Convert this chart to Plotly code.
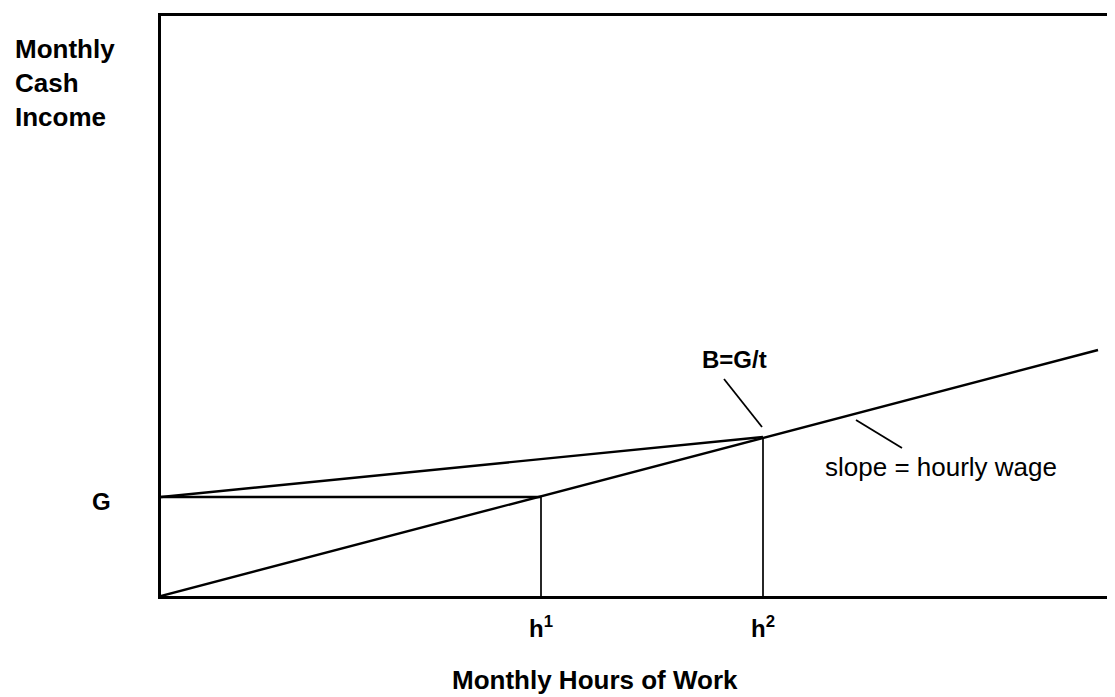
import plotly.graph_objects as go

# values (hours on x, cash income on y)
hours_h1 = 380
hours_h2 = 602
hours_end = 937
income_G = 99
income_B = 159
income_end = 246

wage_x = [0, hours_end]
wage_y = [0, income_end]
grant_x = [0, hours_h2]
grant_y = [income_G, income_B]
g_level_x = [0, hours_h1]
g_level_y = [income_G, income_G]
h1_x = [hours_h1, hours_h1]
h1_y = [0, income_G]
h2_x = [hours_h2, hours_h2]
h2_y = [0, income_B]
b_pointer_x = [563, 601]
b_pointer_y = [217, 169]
slope_pointer_x = [695, 741]
slope_pointer_y = [176, 148]

X_MAX = 954
Y_MAX = 580
FONT = "Liberation Sans, Arial, Helvetica, sans-serif"

fig = go.Figure()


def add_line(x, y, width=2.4):
    fig.add_trace(go.Scatter(x=x, y=y, mode="lines", line=dict(color="black", width=width),
                             hoverinfo="skip", showlegend=False))


add_line(wage_x, wage_y)
add_line(grant_x, grant_y)
add_line(g_level_x, g_level_y)
add_line(h1_x, h1_y, 1.7)
add_line(h2_x, h2_y, 1.7)
add_line(b_pointer_x, b_pointer_y, 1.8)
add_line(slope_pointer_x, slope_pointer_y, 1.8)

annotations = [
    dict(x=-148, y=513, text="<b>Monthly<br>Cash<br>Income</b>", xanchor="left",
         align="left", font=dict(size=26)),
    dict(x=-60, y=95, text="<b>G</b>", font=dict(size=24)),
    dict(x=hours_h1, y=-31, text="<b>h<sup>1</sup></b>", font=dict(size=24)),
    dict(x=hours_h2, y=-31, text="<b>h<sup>2</sup></b>", font=dict(size=24)),
    dict(x=434, y=-84, text="<b>Monthly Hours of Work</b>", font=dict(size=26)),
    dict(x=573, y=237, text="<b>B=G/t</b>", font=dict(size=24)),
    dict(x=662, y=129, text="slope = hourly wage", xanchor="left", font=dict(size=26)),
]
# annotations sit partly outside the axes, so place them in paper units
for a in annotations:
    a.setdefault("xanchor", "center")
    a.update(x=a["x"] / X_MAX, y=a["y"] / Y_MAX, xref="paper", yref="paper",
             yanchor="middle", showarrow=False)
    a["font"].update(family=FONT, color="black")

# the page body adds an 8px offset, so the figure is a little smaller
fig.update_layout(
    width=1107,
    height=689,
    margin=dict(l=153, r=0, t=8, b=101),
    plot_bgcolor="white",
    paper_bgcolor="white",
    annotations=annotations,
    xaxis=dict(range=[0, X_MAX], showline=True, linecolor="black", linewidth=2.5, mirror=True,
               showgrid=False, zeroline=False, showticklabels=False, ticks=""),
    yaxis=dict(range=[0, Y_MAX], showline=True, linecolor="black", linewidth=2.5,
               showgrid=False, zeroline=False, showticklabels=False, ticks=""),
)

fig.write_html("out.html")
